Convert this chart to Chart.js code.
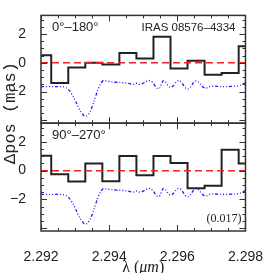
<!DOCTYPE html>
<html>
<head>
<meta charset="utf-8">
<script src="https://cdn.jsdelivr.net/npm/chart.js@4.4.1/dist/chart.umd.min.js"></script>
<style>
  html, body { margin: 0; padding: 0; background: #fff; }
  #wrap { width: 273px; height: 273px; position: relative; }
</style>
</head>
<body>
<div id="wrap"><canvas id="c" width="273" height="273"></canvas></div>
<script>
// bin start wavelengths (last entry closes the final bin)
var binStarts = [2.2920, 2.2923, 2.2928, 2.2933, 2.2938, 2.2943, 2.2948, 2.2953, 2.2958, 2.2963, 2.2968, 2.2973, 2.2978, 2.2980];
var pos0180  = [0.53, -1.40, -0.32, 0.00, -0.12, 0.69, 0.30, 1.81, -0.39, 0.14, -0.83, -0.71, 1.15, 1.15];
var pos90270 = [1.03, -0.26, -0.76, 0.50, -0.74, 1.01, -0.32, 1.01, 0.53, -1.22, -1.06, 1.45, 0.50, 0.50];

// scaled spectrum (blue dash-dot)
var specX = [2.2920, 2.2922, 2.2924, 2.2926, 2.2927, 2.2928, 2.2929, 2.2930, 2.2931, 2.2932, 2.2933, 2.2934,
             2.2935, 2.2936, 2.2937, 2.2938, 2.29385, 2.2940, 2.2942, 2.2944, 2.2946, 2.2947, 2.2948, 2.2949,
             2.2950, 2.2952, 2.29545, 2.2956, 2.2958, 2.29605, 2.2963, 2.29655, 2.2968, 2.2970, 2.2972, 2.2974,
             2.2976, 2.2978, 2.2979, 2.2980];
var specY = [-1.65, -1.65, -1.65, -1.66, -1.70, -1.85, -2.15, -2.60, -3.10, -3.50, -3.72, -3.55,
             -3.05, -2.35, -1.70, -1.30, -1.24, -1.30, -1.35, -1.38, -1.45, -1.50, -1.42, -1.50,
             -1.42, -1.24, -1.80, -1.24, -1.70, -1.24, -1.82, -1.26, -1.75, -1.62, -1.64, -1.66,
             -1.64, -1.60, -1.50, -1.38];

var xRange = [2.292, 2.298];
var zeroLine = [0, 0];
var xTickLabels = [2.292, 2.294, 2.296, 2.298];
var yTickLabels = [-2, 0, 2];

function pts(xs, ys) {
  var out = [];
  for (var i = 0; i < xs.length; i++) out.push({ x: xs[i], y: ys[i] });
  return out;
}

var stepStyle = { borderColor: "#222", borderWidth: 2, stepped: "before", pointRadius: 0, fill: false };
var redStyle = { borderColor: "#ee2222", borderWidth: 1.5, borderDash: [7, 4], pointRadius: 0, fill: false };
var blueStyle = { borderColor: "#1a1aff", borderWidth: 1.3, borderDash: [3, 2, 1, 2, 1, 2, 1, 2], tension: 0.4, pointRadius: 0, fill: false };

function yScale() {
  return {
    type: "linear",
    position: "left",
    stack: "panels",
    stackWeight: 1,
    min: -4.2,
    max: 3.3,
    grid: { display: false },
    border: { display: false },
    afterBuildTicks: function (s) { s.ticks = yTickLabels.map(function (v) { return { value: v }; }); },
    afterFit: function (s) { s.width = 41; },
    ticks: {
      color: "#222",
      padding: 7,
      font: { family: "Liberation Sans", size: 14 },
      callback: function (v) { return v < 0 ? "\u2212" + Math.abs(v) : String(v); }
    }
  };
}

// frame, inward ticks and panel annotations
var framePlugin = {
  id: "frame",
  afterDraw: function (chart) {
    var ctx = chart.ctx;
    var xs = chart.scales.x;
    var left = chart.chartArea.left, right = chart.chartArea.right;
    ["yTop", "yBot"].forEach(function (id) {
      var s = chart.scales[id];
      ctx.save();
      ctx.strokeStyle = "#333";
      ctx.lineWidth = 1.5;
      ctx.strokeRect(left, s.top, right - left, s.bottom - s.top);
      ctx.lineWidth = 1;
      ctx.beginPath();
      for (var k = 0; k <= 12; k++) {
        var v = xs.min + k * 0.0005;
        var px = Math.round(xs.getPixelForValue(v)) + 0.5;
        var len = (k % 4 === 0) ? 6 : 3;
        ctx.moveTo(px, s.top); ctx.lineTo(px, s.top + len);
        ctx.moveTo(px, s.bottom); ctx.lineTo(px, s.bottom - len);
      }
      for (var j = -8; j <= 6; j++) {
        var yv = j * 0.5;
        var py = Math.round(s.getPixelForValue(yv)) + 0.5;
        var l2 = (j % 4 === 0) ? 6 : 3;
        ctx.moveTo(left, py); ctx.lineTo(left + l2, py);
        ctx.moveTo(right, py); ctx.lineTo(right - l2, py);
      }
      ctx.stroke();
      ctx.restore();
    });

    var top = chart.scales.yTop, bot = chart.scales.yBot;
    ctx.save();
    ctx.fillStyle = "#222";
    ctx.textBaseline = "middle";
    ctx.font = "13px 'Liberation Sans'";
    ctx.textAlign = "left";
    ctx.fillText("0\u00b0\u2013180\u00b0", left + 11, top.top + 12);
    ctx.fillText("90\u00b0\u2013270\u00b0", left + 11, bot.top + 12);
    ctx.textAlign = "right";
    ctx.font = "11.5px 'Liberation Sans'";
    ctx.fillText("IRAS 08576\u20134334", right - 10, top.top + 12);
    ctx.font = "12px 'Liberation Serif'";
    ctx.fillText("(0.017)", right - 4, bot.bottom - 12);

    // y title
    ctx.save();
    ctx.translate(15, 113);
    ctx.rotate(-Math.PI / 2);
    ctx.textAlign = "center";
    ctx.textBaseline = "alphabetic";
    ctx.font = "17px 'Liberation Mono'";
    ctx.fillText("\u0394pos (mas)", 0, 0);
    ctx.restore();

    // x title
    var cx = (left + right) / 2;
    var ty = 268;
    ctx.textAlign = "left";
    ctx.font = "16px 'Liberation Serif'";
    var a = "\u03bb (", b = "\u03bcm", c = ")";
    var wa = ctx.measureText(a).width;
    ctx.font = "italic 16px 'Liberation Serif'";
    var wb = ctx.measureText(b).width;
    ctx.font = "16px 'Liberation Serif'";
    var wc = ctx.measureText(c).width;
    var x0 = cx - (wa + wb + wc) / 2;
    ctx.fillText(a, x0, ty);
    ctx.font = "italic 16px 'Liberation Serif'";
    ctx.fillText(b, x0 + wa, ty);
    ctx.font = "16px 'Liberation Serif'";
    ctx.fillText(c, x0 + wa + wb, ty);
    ctx.restore();
  }
};

var chart = new Chart(document.getElementById("c"), {
  type: "line",
  data: {
    datasets: [
      Object.assign({ data: pts(xRange, zeroLine), yAxisID: "yTop" }, redStyle),
      Object.assign({ data: pts(specX, specY), yAxisID: "yTop" }, blueStyle),
      Object.assign({ data: pts(binStarts, pos0180), yAxisID: "yTop" }, stepStyle),
      Object.assign({ data: pts(xRange, zeroLine), yAxisID: "yBot" }, redStyle),
      Object.assign({ data: pts(specX, specY), yAxisID: "yBot" }, blueStyle),
      Object.assign({ data: pts(binStarts, pos90270), yAxisID: "yBot" }, stepStyle)
    ]
  },
  options: {
    responsive: false,
    animation: false,
    devicePixelRatio: 1,
    layout: { padding: { left: 0, right: 14, top: 13, bottom: 0 } },
    plugins: { legend: { display: false }, tooltip: { enabled: false } },
    scales: {
      x: {
        type: "linear",
        min: xRange[0],
        max: xRange[1],
        grid: { display: false },
        border: { display: false },
        afterBuildTicks: function (s) { s.ticks = xTickLabels.map(function (v) { return { value: v }; }); },
        afterFit: function (s) { s.height = 42; },
        ticks: {
          color: "#222",
          padding: 10,
          maxRotation: 0,
          font: { family: "Liberation Sans", size: 14 },
          callback: function (v) { return Number(v).toFixed(3); }
        }
      },
      // stacked panels are placed bottom-up, so the lower panel comes first
      yBot: yScale(),
      yTop: yScale()
    }
  },
  plugins: [framePlugin]
});
</script>
</body>
</html>
